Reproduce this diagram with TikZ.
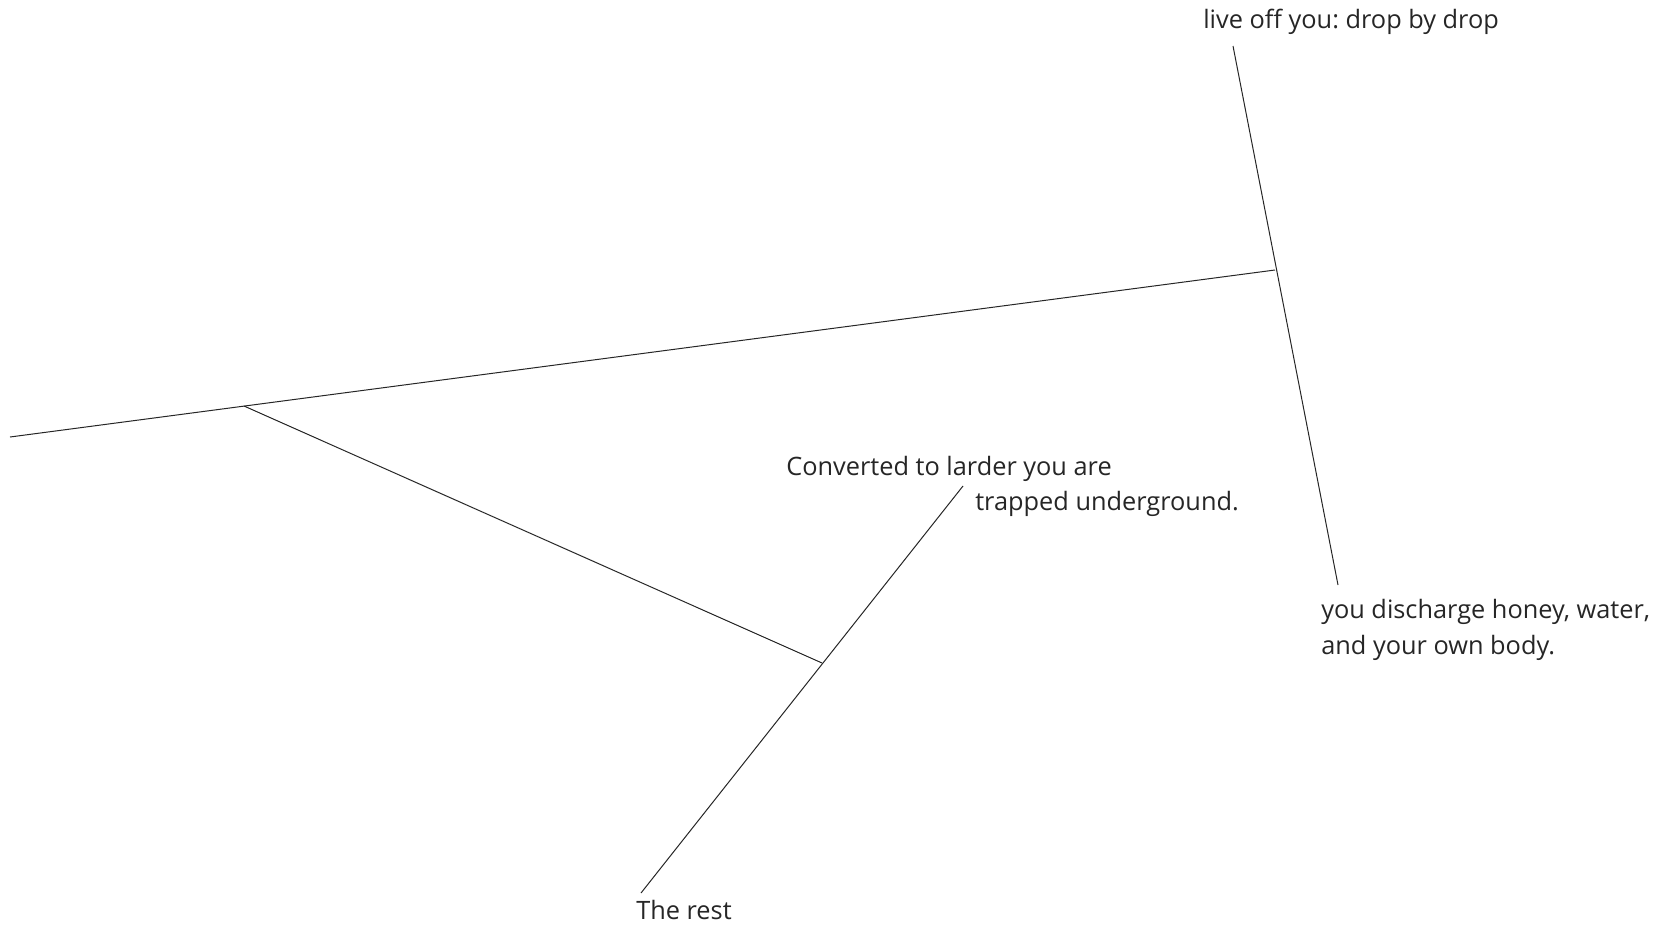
\documentclass[tikz,border=0pt]{standalone}
\usepackage{fontspec}
\setmainfont{Open Sans}
\frenchspacing
\begin{document}
\begin{tikzpicture}[x=0.75pt,y=-0.75pt,
  ln/.style={line width=0.75pt,black!85},
  lbl/.style={anchor=base west,inner sep=0pt,font=\fontsize{19pt}{27pt}\selectfont\frenchspacing,text=black!85}]
\useasboundingbox (0,0) rectangle (1676,928);
\coordinate (a) at (10,437);
\coordinate (b) at (1275,270);
\coordinate (c) at (1233,46);
\coordinate (d) at (1338,585);
\coordinate (e) at (244,406);
\coordinate (f) at (822,663);
\coordinate (g) at (963,486);
\coordinate (h) at (641,893);
\draw[ln] (a) -- (b);
\draw[ln] (c) -- (d);
\draw[ln] (e) -- (f);
\draw[ln] (g) -- (h);
\node[lbl] (t1) at (1203,28) {live off you: drop by drop};
\node[lbl] (t2) at (786,475) {Converted to larder you are};
\node[lbl] (t3) at (975,510) {trapped underground.};
\node[lbl] (t4) at (1321,618) {you discharge honey, water,};
\node[lbl] (t5) at (1321,654) {and your own body.};
\node[lbl] (t6) at (636,919) {The rest};
\end{tikzpicture}
\end{document}
